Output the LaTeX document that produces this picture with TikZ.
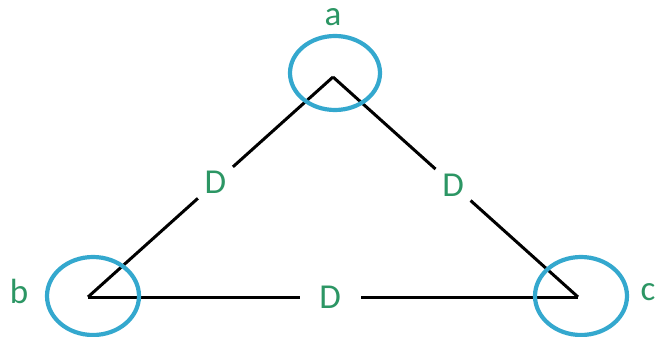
\documentclass[tikz,border=0pt]{standalone}
\usepackage{fontspec}
\setmainfont{Carlito}
\usetikzlibrary{shapes.geometric}
\definecolor{ringblue}{RGB}{52,168,206}
\definecolor{labgreen}{RGB}{44,150,100}
\begin{document}
\begin{tikzpicture}[x=1pt,y=-1pt,
  edge/.style={draw=black,line width=3pt},
  ring/.style={draw=ringblue,line width=4.2pt,ellipse,inner sep=0pt},
  lab/.style={text=labgreen,font=\fontsize{35}{35}\selectfont,inner sep=0pt},
  dlab/.style={lab,circle,fill=white,minimum size=47pt},
  dlabh/.style={lab,rectangle,fill=white,minimum width=61pt,minimum height=20pt}]
\useasboundingbox (0,0) rectangle (659,337);
\coordinate (a) at (333,77);
\coordinate (b) at (88,297);
\coordinate (c) at (578,297);
\draw[edge] (a) -- node[dlab,pos=0.48] (dab) {D} (b);
\draw[edge] (a) -- node[dlab,pos=0.49] (dac) {D} (c);
\draw[edge] (b) -- node[dlabh,pos=0.494] (dbc) {D} (c);
\node[ring,minimum width=90pt,minimum height=74pt] (ra) at (335,73) {};
\node[ring,minimum width=92pt,minimum height=78pt] (rb) at (93,296) {};
\node[ring,minimum width=92pt,minimum height=78pt] (rc) at (581,296) {};
\node[lab] (la) at (333,17) {a};
\node[lab] (lb) at (19,291) {b};
\node[lab] (lc) at (648,292) {c};
\end{tikzpicture}
\end{document}
